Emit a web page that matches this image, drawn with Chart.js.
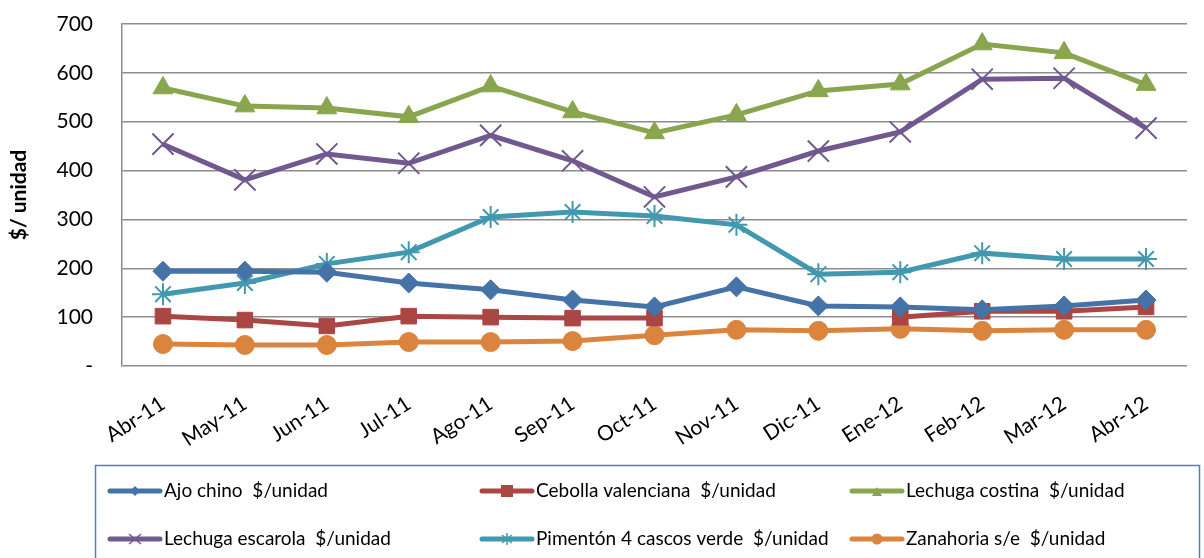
<!DOCTYPE html>
<html><head><meta charset="utf-8">
<script src="https://cdn.jsdelivr.net/npm/chart.js@4/dist/chart.umd.min.js"></script>
<style>html,body{margin:0;padding:0;background:#fff}#wrap{width:1204px;height:558px;position:relative}</style>
</head><body><div id="wrap"><canvas id="c" width="1204" height="558"></canvas></div>
<script>
const categories = ["Abr-11","May-11","Jun-11","Jul-11","Ago-11","Sep-11","Oct-11","Nov-11","Dic-11","Ene-12","Feb-12","Mar-12","Abr-12"];
const ajoChino = [194,194,192,170,156,135,121,162,123,121,115,123,135];
const cebolla = [102,94,82,102,100,98,98,null,null,100,112,112,121];
const lechugaCostina = [569,532,528,510,573,520,477,514,563,577,659,641,576];
const lechugaEscarola = [454,381,434,415,472,420,346,387,440,479,587,589,487];
const pimenton = [147,170,209,233,305,315,307,289,188,192,231,219,219];
const zanahoria = [45,43,43,49,49,51,63,74,72,76,72,74,74];
const yTicks = [0,100,200,300,400,500,600,700];
const seriesNames = ["Ajo chino  $/unidad","Cebolla valenciana  $/unidad","Lechuga costina  $/unidad","Lechuga escarola  $/unidad","Pimentón 4 cascos verde  $/unidad","Zanahoria s/e  $/unidad"];

const FONT = "Lato, 'Open Sans', sans-serif";
const colors = ["#4572A7","#AA4643","#89A54E","#71588F","#4198AF","#DB843D"];
const styles = [
  {pointStyle:'rectRot', r:10, bw:1},
  {pointStyle:'rect', r:11, bw:1},
  {pointStyle:'triangle', r:11.5, bw:1},
  {pointStyle:'crossRot', r:15, bw:2},
  {pointStyle:'star', r:11, bw:2},
  {pointStyle:'circle', r:9.5, bw:1}
];
const allData = [ajoChino, cebolla, lechugaCostina, lechugaEscarola, pimenton, zanahoria];

const datasets = allData.map((d,i)=>({
  label: seriesNames[i],
  data: d,
  borderColor: colors[i],
  backgroundColor: colors[i],
  borderWidth: 5,
  pointStyle: styles[i].pointStyle,
  pointRadius: styles[i].r,
  pointBorderWidth: styles[i].bw,
  pointBorderColor: colors[i],
  pointBackgroundColor: colors[i],
  tension: 0,
  spanGaps: false
}));

const legendPlugin = {
  id: 'customLegend',
  afterDraw(chart) {
    const ctx = chart.ctx;
    ctx.save();
    ctx.strokeStyle = '#4F81BD';
    ctx.lineWidth = 1.5;
    ctx.strokeRect(95.5, 465.5, 1104, 120);
    const cols = [108, 480, 850];
    const rows = [491, 539];
    chart.data.datasets.forEach((ds, i) => {
      const x = cols[i % 3], y = rows[Math.floor(i / 3)];
      ctx.strokeStyle = ds.borderColor;
      ctx.fillStyle = ds.borderColor;
      ctx.lineWidth = 5;
      ctx.lineCap = 'round';
      ctx.beginPath(); ctx.moveTo(x + 2, y); ctx.lineTo(x + 52, y); ctx.stroke();
      const cx = x + 27;
      ctx.lineWidth = 1.5;
      ctx.lineCap = 'butt';
      const st = ds.pointStyle;
      ctx.beginPath();
      if (st === 'rectRot') { const r = 5; ctx.moveTo(cx - r, y); ctx.lineTo(cx, y - r); ctx.lineTo(cx + r, y); ctx.lineTo(cx, y + r); ctx.closePath(); ctx.fill(); }
      else if (st === 'rect') { ctx.rect(cx - 6, y - 6, 12, 12); ctx.fill(); }
      else if (st === 'triangle') { ctx.moveTo(cx - 5, y + 5); ctx.lineTo(cx, y - 4); ctx.lineTo(cx + 5, y + 5); ctx.closePath(); ctx.fill(); }
      else if (st === 'crossRot') { ctx.moveTo(cx - 6, y - 5); ctx.lineTo(cx + 6, y + 5); ctx.moveTo(cx + 6, y - 5); ctx.lineTo(cx - 6, y + 5); ctx.stroke(); }
      else if (st === 'star') { ctx.moveTo(cx - 5, y - 4); ctx.lineTo(cx + 5, y + 4); ctx.moveTo(cx + 5, y - 4); ctx.lineTo(cx - 5, y + 4); ctx.moveTo(cx, y - 6); ctx.lineTo(cx, y + 6); ctx.stroke(); }
      else if (st === 'circle') { ctx.arc(cx, y, 5.5, 0, Math.PI * 2); ctx.fill(); }
      ctx.fillStyle = '#000';
      ctx.font = '19px ' + FONT;
      ctx.textBaseline = 'middle';
      ctx.textAlign = 'left';
      ctx.fillText(ds.label, x + 56, y);
    });
    ctx.restore();
  }
};

new Chart(document.getElementById('c'), {
  type: 'line',
  data: { labels: categories, datasets },
  plugins: [legendPlugin],
  options: {
    responsive: false,
    animation: false,
    events: [],
    layout: { padding: { top: 24, right: 0, bottom: 0, left: 0 } },
    plugins: { legend: { display: false }, tooltip: { enabled: false } },
    scales: {
      x: {
        offset: true,
        grid: { display: false, drawTicks: false },
        border: { display: false },
        ticks: { color: '#000', font: { size: 21, family: FONT }, minRotation: 33, maxRotation: 33, padding: 25, autoSkip: false },
        afterFit(s) { s.height = 192; }
      },
      y: {
        min: 0, max: 700,
        afterBuildTicks(s) { s.ticks = yTicks.map(v => ({ value: v })); },
        grid: { color: '#8c8c8c', lineWidth: 1.5, drawTicks: true, tickLength: 25, tickColor: 'rgba(0,0,0,0)' },
        border: { display: true, color: '#8c8c8c', width: 1.5 },
        ticks: { color: '#000', font: { size: 21, family: FONT }, padding: 4,
          callback: v => v === 0 ? '-' : String(v) },
        title: { display: true, text: '$/ unidad', color: '#000', font: { size: 21, weight: 'bold', family: FONT }, padding: { top: 7, bottom: 4 } },
        afterFit(s) { s.width = 122; }
      }
    }
  }
});
</script></body></html>
